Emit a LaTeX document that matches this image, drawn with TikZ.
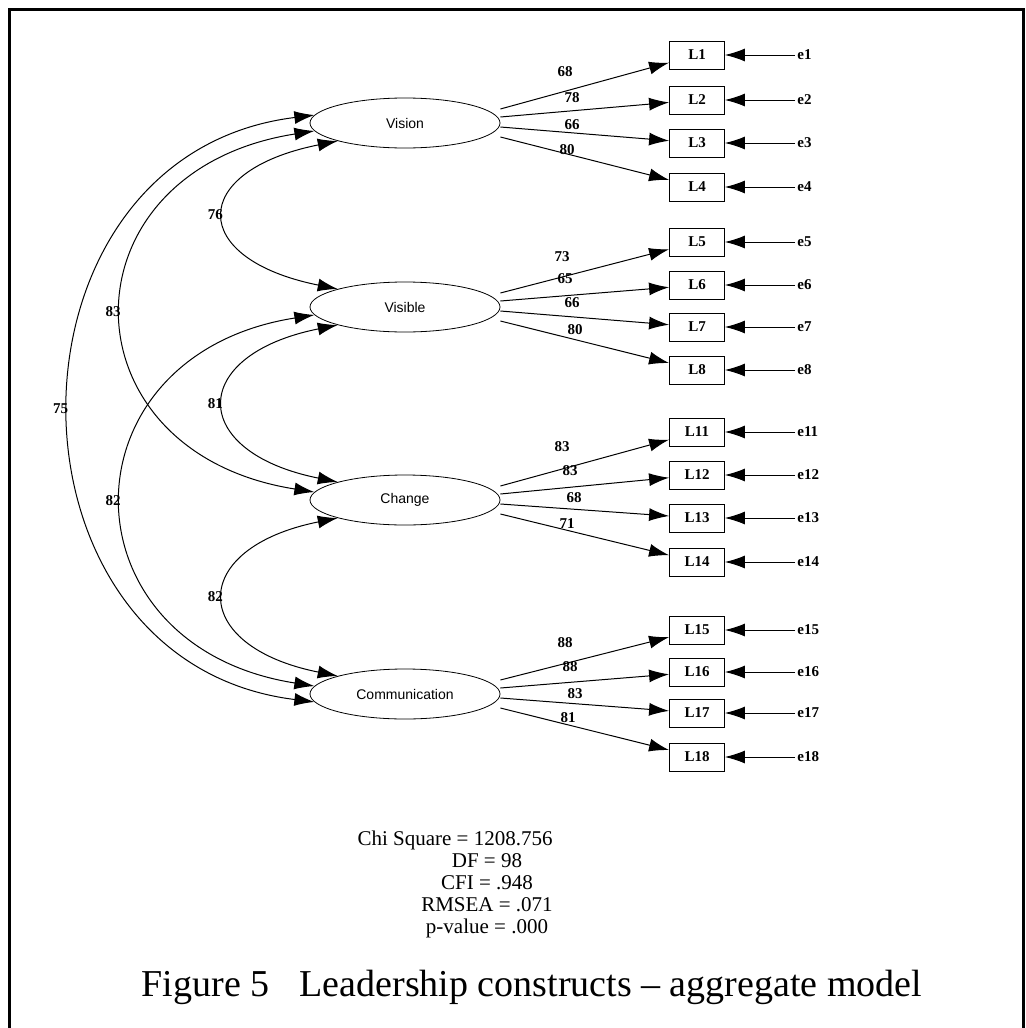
\documentclass[tikz,border=0pt]{standalone}
\usepackage{fontspec}
\setmainfont{Liberation Serif}
\setsansfont{Liberation Sans}
\usetikzlibrary{arrows.meta,positioning,shapes.geometric}

\begin{document}
\begin{tikzpicture}[x=.5pt,y=-.5pt,
  latent/.style={draw,ellipse,line width=.4pt,minimum width=95pt,minimum height=25pt,inner sep=0pt,font=\sffamily\fontsize{7}{8}\selectfont},
  indicator/.style={draw,rectangle,line width=.4pt,minimum width=27.5pt,minimum height=14pt,inner sep=0pt,font=\fontsize{7.5}{8}\selectfont\bfseries},
  errlabel/.style={anchor=west,inner sep=1pt,font=\fontsize{7.5}{8}\selectfont\bfseries},
  coef/.style={inner sep=1pt,font=\fontsize{7.5}{8}\selectfont\bfseries},
  onehead/.style={-{Latex[length=10pt,width=6.5pt]},line width=.5pt},
  twohead/.style={{Latex[length=10pt,width=6.5pt]}-{Latex[length=10pt,width=6.5pt]},line width=.5pt}]
\useasboundingbox (0,0) rectangle (1026,1028);
\draw[line width=1.5pt] (9,1028) -- (9,9) -- (1023,9) -- (1023,1028);

\node[latent] (vision) at (405,123) {Vision};
\node[latent] (visible) at (405,307) {Visible};
\node[latent] (change) at (405,500) {Change};
\node[latent] (comm) at (405,694) {Communication};

\foreach \n/\y/\fac/\s/\w/\lx/\ly in {1/55/vision/7/68/565/72, 2/100/vision/3/78/572/98,
    3/143/vision/-2/66/572/125, 4/187/vision/-7/80/567/150,
    5/242/visible/7/73/562/257, 6/285/visible/3/65/565/279,
    7/327/visible/-2/66/572/303, 8/370/visible/-7/80/575/330,
    11/432/change/7/83/562/447, 12/475/change/3/83/570/471,
    13/518/change/-2/68/574/498, 14/562/change/-7/71/567/524,
    15/630/comm/7/88/565/643, 16/672/comm/3/88/570/667,
    17/713/comm/-2/83/575/694, 18/757/comm/-7/81/568/718}{
  \node[indicator] (L\n) at (697,\y) {L\n};
  \node[errlabel] (e\n) at (795,\y) {e\n};
  \draw[onehead] ([yshift=\s pt]\fac.east) -- (L\n);
  \draw[onehead] (e\n) -- (L\n);
  \node[coef] (w\n) at (\lx,\ly) {\w};
}

\draw[twohead] (vision.195) .. controls +(-150,30) and +(-150,-30) .. (visible.165) node[coef,pos=.5,left] (r1) {76};
\draw[twohead] (visible.195) .. controls +(-150,30) and +(-150,-30) .. (change.165) node[coef,pos=.5,left] (r2) {81};
\draw[twohead] (change.195) .. controls +(-150,30) and +(-150,-30) .. (comm.165) node[coef,pos=.5,left] (r3) {82};
\draw[twohead] (vision.185) .. controls +(-255,40) and +(-255,-40) .. (change.175) node[coef,pos=.5,left] (r4) {83};
\draw[twohead] (visible.185) .. controls +(-255,40) and +(-255,-40) .. (comm.175) node[coef,pos=.5,left] (r5) {82};
\draw[twohead] (vision.175) .. controls +(-325,40) and +(-325,-40) .. (comm.185) node[coef,pos=.5,left] (r6) {75};

\node[font=\fontsize{10.5}{11}\selectfont,align=center] (fit) at (487,884) {Chi Square = 1208.756\hspace*{32pt}\\DF = 98\\CFI = .948\\RMSEA = .071\\p-value = .000};
\node[font=\fontsize{19}{21}\selectfont,anchor=base] (caption) at (532,996) {Figure 5\hspace{15pt}Leadership constructs – aggregate model};
\end{tikzpicture}
\end{document}
